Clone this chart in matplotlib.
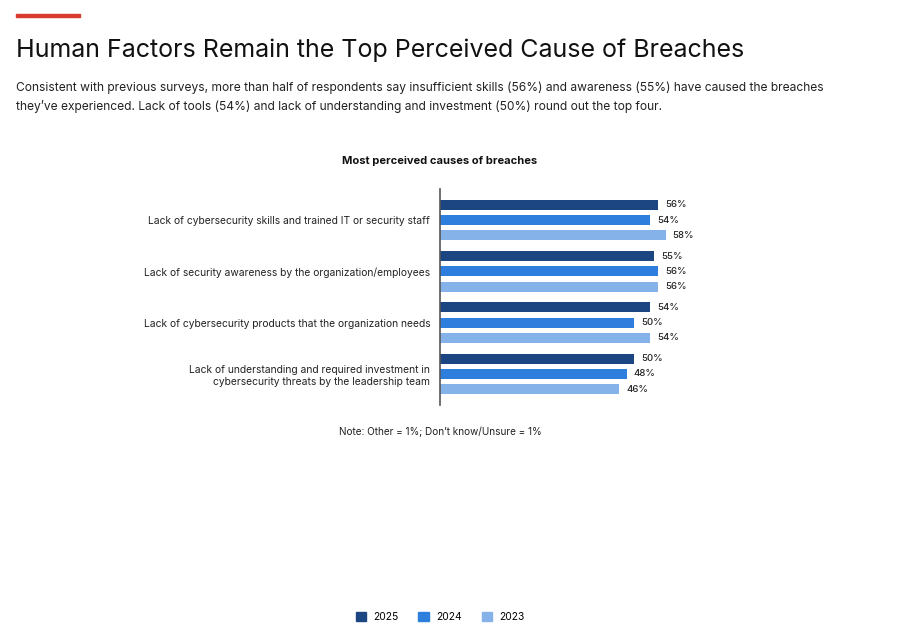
import matplotlib.pyplot as plt
import matplotlib.patches as mpatches
import numpy as np

plt.rcParams['font.family'] = ['Inter', 'DejaVu Sans']

causes = [
    'Lack of cybersecurity skills and trained IT or security staff',
    'Lack of security awareness by the organization/employees',
    'Lack of cybersecurity products that the organization needs',
    'Lack of understanding and required investment in\ncybersecurity threats by the leadership team',
]
years = ['2025', '2024', '2023']
v2025 = [56, 55, 54, 50]
v2024 = [54, 56, 50, 48]
v2023 = [58, 56, 54, 46]
colors = ['#1c4682', '#2e7fdd', '#85b2e9']

fig = plt.figure(figsize=(9.04, 6.38), dpi=100)

# red accent line + heading
fig.patches.append(mpatches.Rectangle((16 / 904, 1 - 17 / 638), 64 / 904, 3 / 638,
                                      transform=fig.transFigure, color='#d83a2f'))
fig.text(16 / 904, 1 - 50 / 638, 'Human Factors Remain the Top Perceived Cause of Breaches',
         fontsize=18, va='center', ha='left', color='#111111')
fig.text(16 / 904, 1 - 97 / 638,
         'Consistent with previous surveys, more than half of respondents say insufficient skills (56%) and awareness (55%) have caused the breaches\n'
         'they\u2019ve experienced. Lack of tools (54%) and lack of understanding and investment (50%) round out the top four.',
         fontsize=8.65, va='center', ha='left', color='#222222', linespacing=1.6)

ax = fig.add_axes([440 / 904, 1 - 405 / 638, 389 / 904, 216 / 638])
centers = np.arange(len(causes)) * 51.3
offsets = [-15.2, 0, 15.2]
for vals, off, col in zip([v2025, v2024, v2023], offsets, colors):
    ax.barh(centers + off, vals, height=10, color=col)
    for y, v in zip(centers + off, vals):
        ax.text(v + 1.8, y, f'{v}%', va='center', ha='left', fontsize=6.9,
                fontweight='medium', color='#222222')

ax.set_xlim(0, 100)
ax.set_ylim(centers[-1] + 31, -31)
ax.set_yticks(centers)
ax.set_yticklabels(causes, fontsize=7.4, color='#222222', ha='right')
ax.tick_params(axis='y', length=0, pad=7)
ax.set_xticks([])
for s in ['top', 'right', 'bottom']:
    ax.spines[s].set_visible(False)
ax.spines['left'].set_color('#555555')
ax.spines['left'].set_linewidth(1.2)
ax.set_facecolor('none')

fig.text(440 / 904, 1 - 161 / 638, 'Most perceived causes of breaches',
         fontsize=8, fontweight='bold', ha='center', va='center', color='#111111')
fig.text(440 / 904, 1 - 432 / 638, 'Note: Other = 1%; Don\u2019t know/Unsure = 1%',
         fontsize=7.2, ha='center', va='center', color='#222222')

handles = [mpatches.Patch(color=c, label=y) for c, y in zip(colors, years)]
fig.legend(handles=handles, loc='center', bbox_to_anchor=(440 / 904, 1 - 617 / 638),
           ncol=3, frameon=False, fontsize=7.4, handlelength=1.0, handleheight=1.0,
           handletextpad=0.7, columnspacing=1.95)

plt.savefig('out.png', dpi=100)
